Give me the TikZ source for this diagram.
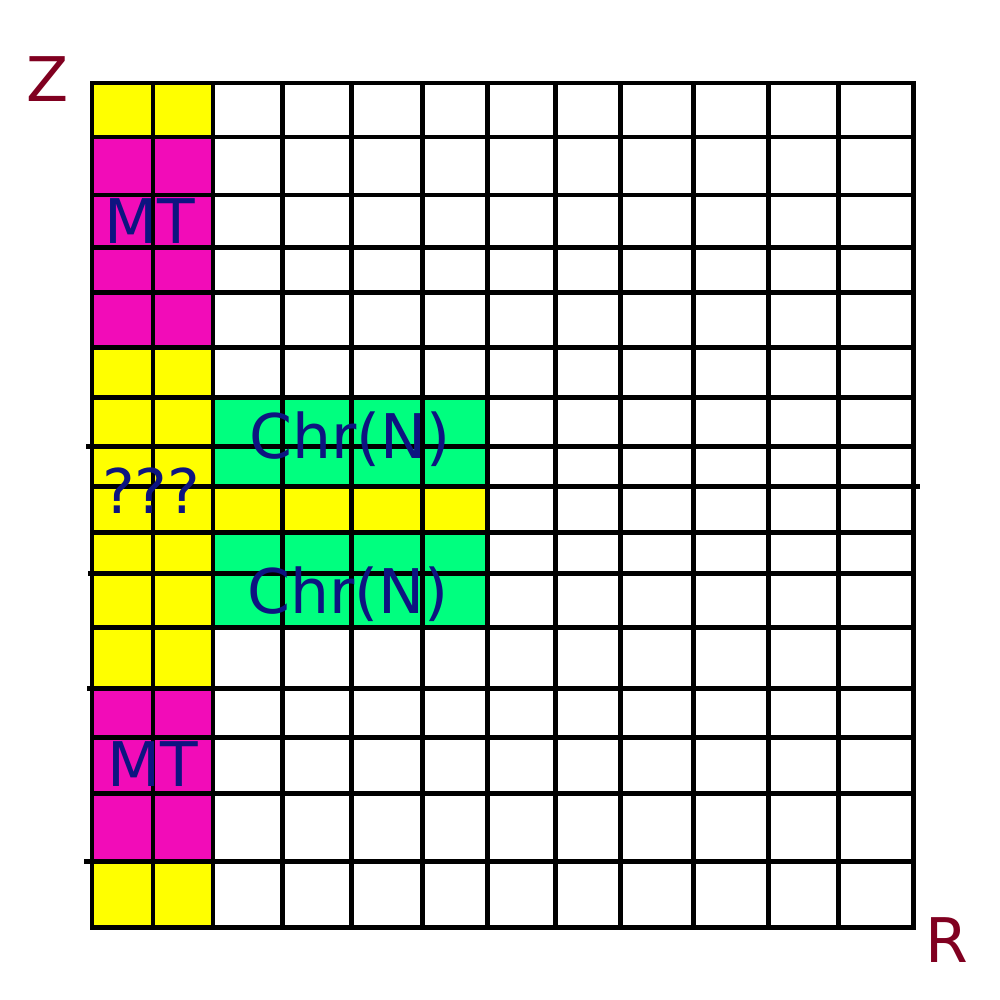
\documentclass[tikz,border=0pt]{standalone}
\usepackage{fontspec}
\setmainfont{DejaVu Sans}
\definecolor{cyel}{HTML}{FFFF00}
\definecolor{cmag}{HTML}{F20CB8}
\definecolor{cgrn}{HTML}{00FF7F}
\definecolor{ctxt}{HTML}{0D1480}
\definecolor{caxis}{HTML}{800020}
\tikzset{
  gridline/.style={line width=1.42pt, black, line cap=rect},
  lbl/.style={inner sep=0pt, anchor=base, text=ctxt, font=\fontsize{17.5}{21}\selectfont},
  axislbl/.style={inner sep=0pt, anchor=base, text=caxis, font=\fontsize{17.5}{21}\selectfont},
}
\begin{document}
\begin{tikzpicture}[x=0.01cm, y=-0.01cm]
\useasboundingbox (0,0) rectangle (1000,1000);
% fills
\fill[cyel] (92,83) rectangle (213,137);
\fill[cmag] (92,137) rectangle (213,347);
\fill[cyel] (92,347) rectangle (213,688);
\fill[cmag] (92,688) rectangle (213,861);
\fill[cyel] (92,861) rectangle (213,927);
\fill[cgrn] (213,397) rectangle (487,486);
\fill[cyel] (213,486) rectangle (487,532);
\fill[cgrn] (213,532) rectangle (487,627);
% vertical lines
\foreach \x in {92,153,213,282,351,422,487,555,620,693,768,838,913}
  \draw[gridline] (\x,83) -- (\x,927);
% horizontal lines
\foreach \y in {83,137,195,247,292,347,397,532,627,737,793,927}
  \draw[gridline] (92,\y) -- (913,\y);
\draw[gridline] (88,446) -- (913,446);
\draw[gridline] (92,486) -- (917,486);
\draw[gridline] (90,573) -- (913,573);
\draw[gridline] (89,688) -- (913,688);
\draw[gridline] (86,861) -- (913,861);
% labels
\node[lbl] (mt1) at (150,243) {MT};
\node[lbl] (mt2) at (153,786) {MT};
\node[lbl] (chr1) at (350,458) {Chr(N)};
\node[lbl] (chr2) at (348,613) {Chr(N)};
\node[lbl] (q) at (151,513) {???};
\node[axislbl] (z) at (48,101) {Z};
\node[axislbl] (r) at (947,962) {R};
\end{tikzpicture}
\end{document}
